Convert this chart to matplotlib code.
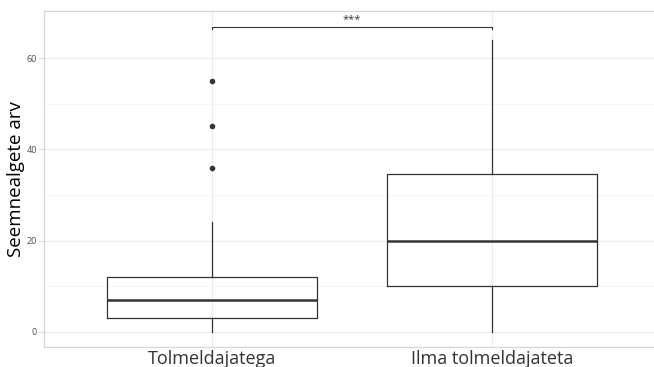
import matplotlib
matplotlib.use("Agg")
from matplotlib import pyplot as plt

plt.rcParams['font.family'] = ['Open Sans', 'DejaVu Sans']

groups = ['Tolmeldajatega', 'Ilma tolmeldajateta']
q1 = [3, 10]
medians = [7, 20]
q3 = [12, 34.5]
whislo = [0, 0]
whishi = [24, 64]
fliers = [[36, 45, 55], []]
signif = '***'
bracket_y = 66.9

stats = []
for i in range(len(groups)):
    stats.append(dict(label=groups[i], q1=q1[i], med=medians[i], q3=q3[i],
                      whislo=whislo[i], whishi=whishi[i], fliers=fliers[i]))

fig = plt.figure(figsize=(6.54, 3.67), dpi=100)
ax = fig.add_axes([44/654, 20/367, 616/654, 336/367])

ax.bxp(stats, positions=[1, 2], widths=0.75, showcaps=False,
       boxprops=dict(color='#333333', linewidth=0.9),
       whiskerprops=dict(color='#333333', linewidth=0.9),
       medianprops=dict(color='#333333', linewidth=1.8),
       flierprops=dict(marker='o', markerfacecolor='#333333',
                       markeredgecolor='#333333', markersize=3))

# significance bracket
ax.plot([1, 1, 2, 2], [bracket_y - 0.6, bracket_y, bracket_y, bracket_y - 0.6],
        color='#333333', linewidth=0.8)
ax.text(1.5, bracket_y + 0.3, signif, ha='center', va='bottom',
        fontsize=8, color='#333333')

ax.set_xlim(0.4, 2.6)
ax.set_ylim(-3.3, 70.3)
ax.set_yticks([0, 20, 40, 60])
ax.set_yticks([10, 30, 50], minor=True)
ax.grid(which='major', color='#ebebeb', linewidth=0.8)
ax.grid(which='minor', axis='y', color='#f5f5f5', linewidth=0.6)
ax.set_axisbelow(True)
ax.tick_params(axis='y', which='both', length=4, color='#dddddd',
               labelsize=6.5, labelcolor='#4d4d4d', pad=1)
ax.tick_params(axis='y', which='minor', length=0)
ax.tick_params(axis='x', length=0, labelsize=13, labelcolor='#333333', pad=2)
for s in ax.spines.values():
    s.set_color('#d6d6d6')
    s.set_linewidth(0.9)
ax.set_ylabel('Seemnealgete arv', fontsize=13.5, color='black', labelpad=4)
ax.yaxis.set_label_coords(-19/616, 0.5)

fig.savefig('out.png', dpi=100)
